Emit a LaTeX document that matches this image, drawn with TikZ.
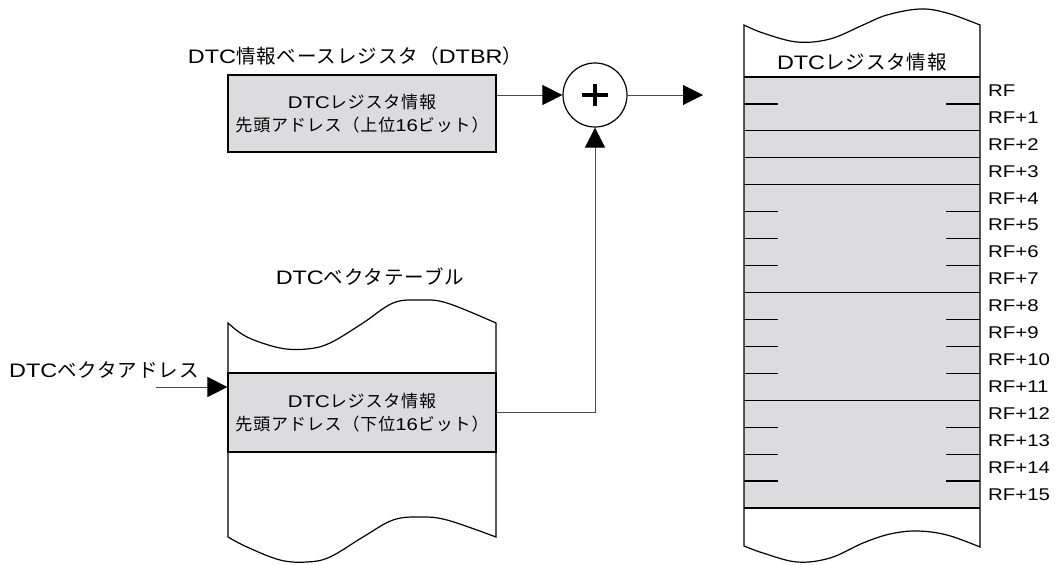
\documentclass[tikz,border=0pt]{standalone}
\usepackage{fontspec}
\setmainfont[FakeStretch=1.2]{Liberation Sans}
\newfontfamily\jpf[LetterSpace=5]{Noto Sans CJK JP}
\newcommand\jp[1]{{\jpf #1}}
\usetikzlibrary{arrows.meta}
\definecolor{cellgray}{RGB}{220,220,222}
\begin{document}
\begin{tikzpicture}[x=1pt,y=-1pt,
  conn/.style={line width=1pt, draw=black!70, -{Triangle[length=20pt,width=20pt,color=black]}},
  bigtext/.style={font=\fontsize{19.5}{23}\selectfont, inner sep=0pt},
  boxtext/.style={font=\fontsize{17}{23}\selectfont, align=center, inner sep=0pt},
  rftext/.style={font=\fontsize{17}{20}\selectfont, anchor=west, inner sep=0pt},
  outline/.style={line width=1.2pt, draw=black},
  cell/.style={fill=cellgray, draw=black, line width=1.2pt}
]
\useasboundingbox (0,0) rectangle (1061,565);

% ---------- right column: DTC register information ----------
\fill[white] (744,546) -- plot[smooth,tension=.6] coordinates {(744,25) (763,33) (797,42) (830,39) (863,25) (887,15) (920,9) (947,13) (980,25)}
  -- plot[smooth,tension=.6] coordinates {(980,547) (947,535) (917,531) (890,534) (863,543) (830,558) (797,562) (763,553) (744,546)} -- cycle;
\fill[cellgray] (744,77) rectangle (980,508);
\foreach \k in {2,3,4,8,12}
  \draw[line width=1.2pt] (744,{77+\k*26.9375}) -- (980,{77+\k*26.9375});
\draw[line width=1.7pt] (744,77) -- (980,77);
\draw[line width=1.9pt] (744,508) -- (980,508);
\foreach \k in {1,5,6,7,9,10,11,13,14,15}{
  \draw[line width=1.2pt] (744,{77+\k*26.9375}) -- (778,{77+\k*26.9375});
  \draw[line width=1.2pt] (946,{77+\k*26.9375}) -- (980,{77+\k*26.9375});
}
\draw[outline] (744,546) -- plot[smooth,tension=.6] coordinates {(744,25) (763,33) (797,42) (830,39) (863,25) (887,15) (920,9) (947,13) (980,25)}
  -- plot[smooth,tension=.6] coordinates {(980,547) (947,535) (917,531) (890,534) (863,543) (830,558) (797,562) (763,553) (744,546)} -- cycle;
\node[bigtext] (rfhead) at (862,62) {DTC\jp{レジスタ情報}};
\foreach \k/\t in {0/RF,1/RF+1,2/RF+2,3/RF+3,4/RF+4,5/RF+5,6/RF+6,7/RF+7,8/RF+8,9/RF+9,10/RF+10,11/RF+11,12/RF+12,13/RF+13,14/RF+14,15/RF+15}
  \node[rftext] (rf\k) at (988,{77+(\k+0.5)*26.9375}) {\t};

% ---------- left column: DTC vector table ----------
\draw[outline, fill=white] (228,537) -- plot[smooth,tension=.6] coordinates {(228,323) (247,337) (280,348) (307,349) (330,343) (363,323) (393,303) (420,300) (447,303) (496,323)}
  -- plot[smooth,tension=.6] coordinates {(496,537) (447,520) (420,517) (393,520) (363,537) (330,557) (307,562) (280,560) (247,547) (228,537)} -- cycle;
\node[cell, boxtext, minimum width=268pt, minimum height=79pt] (vec) at (362,412.5)
  {DTC\jp{レジスタ情報}\\\jp{先頭アドレス（下位}16\jp{ビット）}};
\node[bigtext] (vtlabel) at (370,277) {DTC\jp{ベクタテーブル}};
\node[bigtext] (valabel) at (104,370) {DTC\jp{ベクタアドレス}};
\coordinate (vain) at (156,387);

% ---------- DTBR ----------
\node[cell, boxtext, minimum width=268pt, minimum height=77pt] (dtbr) at (362,113.5)
  {DTC\jp{レジスタ情報}\\\jp{先頭アドレス（上位}16\jp{ビット）}};
\node[bigtext] (dtbrlabel) at (355,56) {DTC\jp{情報ベースレジスタ（}DTBR\jp{）}};

% ---------- adder ----------
\node[circle, draw=black, line width=1.2pt, fill=white, minimum size=64pt, inner sep=0pt] (sum) at (595,95) {};
\draw[line width=3.6pt] ([xshift=-13pt]sum.center) -- ([xshift=13pt]sum.center);
\draw[line width=3.6pt] ([yshift=-11pt]sum.center) -- ([yshift=11pt]sum.center);
\coordinate (out) at (703,95);

% ---------- connectors ----------
\draw[conn] (dtbr.east |- sum) -- (sum.west);
\draw[conn] (sum.east) -- (out);
\draw[conn] (vec.east) -- (vec.east -| sum) -- (sum.south);
\draw[conn] (vain) -- (vain -| vec.west);
\end{tikzpicture}
\end{document}
